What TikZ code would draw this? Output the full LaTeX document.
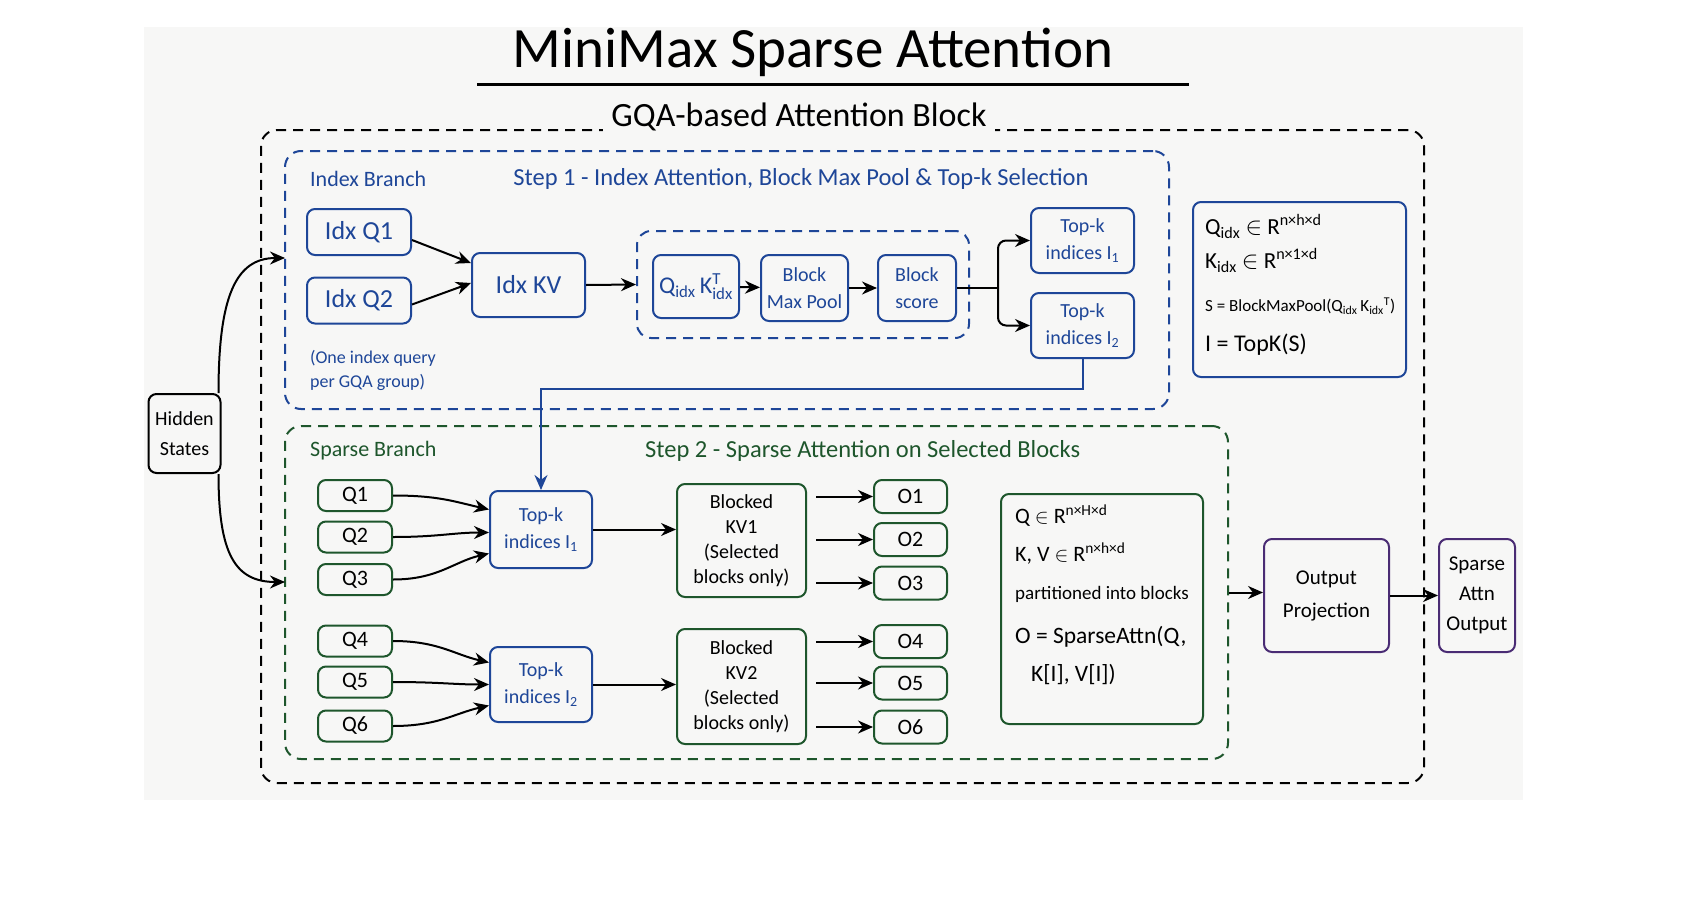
\documentclass[tikz,border=0pt]{standalone}
\usepackage{fontspec}
\setmainfont{Carlito}
\usetikzlibrary{arrows.meta}
\definecolor{idxblue}{RGB}{30,70,152}
\definecolor{spgreen}{RGB}{30,86,44}
\definecolor{projpurple}{RGB}{74,44,116}
\definecolor{paper}{RGB}{247,247,246}
\newcommand{\fsz}[2]{\fontsize{#1}{#2}\selectfont}

\begin{document}
\begin{tikzpicture}[x=1pt,y=-1pt,
  box/.style={draw, line width=2pt, rounded corners=8pt, align=center, inner sep=0pt},
  bluebox/.style={box, draw=idxblue, text=idxblue},
  greenbox/.style={box, draw=spgreen},
  purplebox/.style={box, draw=projpurple},
  group/.style={draw, line width=2pt, dash pattern=on 10pt off 7pt, rounded corners=16pt, inner sep=0pt},
  arr/.style={line width=2pt, -{Stealth[length=15pt, width=13pt]}},
  lbl/.style={inner sep=0pt, anchor=west}]
\useasboundingbox (0,0) rectangle (1700,910);
\fill[paper] (144,27) rectangle (1523,800);

\node[font=\fsz{57}{60}] (title) at (813,52) {MiniMax Sparse Attention};
\draw[line width=3pt] (477,84) -- (1189,84);

\node[group, draw=black, minimum width=1163pt, minimum height=653pt] (gqa) at (842.5,456.5) {};
\node[font=\fsz{34}{36}, fill=paper, inner xsep=8pt, inner ysep=2pt] (gqalbl) at (799,117) {GQA-based Attention Block};

\node[group, draw=idxblue, minimum width=884pt, minimum height=258pt] (idxbr) at (727,280) {};
\node[lbl, text=idxblue, font=\fsz{22}{24}] (idxlbl) at (310,179) {Index Branch};
\node[text=idxblue, font=\fsz{24.5}{26}, inner sep=0pt] (step1) at (801,179) {Step 1 - Index Attention, Block Max Pool \& Top-k Selection};
\node[text=idxblue, font=\fsz{18}{24}, align=left, inner sep=0pt] (idxnote) at (373,370) {(One index query\\per GQA group)};

\node[bluebox, minimum width=104pt, minimum height=46pt, font=\fsz{26}{28}] (idxq1) at (359,232) {Idx Q1};
\node[bluebox, minimum width=104pt, minimum height=46pt, font=\fsz{26}{28}] (idxq2) at (359,300.5) {Idx Q2};
\node[bluebox, minimum width=113pt, minimum height=64pt, font=\fsz{26}{28}] (idxkv) at (528.5,285) {Idx KV};
\node[group, draw=idxblue, rounded corners=14pt, minimum width=332pt, minimum height=107pt] (pipe) at (803,284.5) {};
\node[bluebox, minimum width=86pt, minimum height=63pt, font=\fsz{24}{28}] (qk) at (696,286.5) {$\mathrm{Q}_{\mathrm{idx}}\,\mathrm{K}^{\mathrm{T}}_{\mathrm{idx}}$};
\node[bluebox, minimum width=87pt, minimum height=66pt, font=\fsz{20}{27}] (maxpool) at (804.5,288) {Block\\Max Pool};
\node[bluebox, minimum width=78pt, minimum height=66pt, font=\fsz{20}{27}] (bscore) at (917,288) {Block\\score};
\node[bluebox, minimum width=103pt, minimum height=65pt, font=\fsz{20}{27}] (topka) at (1082.5,240.5) {Top-k\\indices I\textsubscript{1}};
\node[bluebox, minimum width=103pt, minimum height=65pt, font=\fsz{20}{27}] (topkb) at (1082.5,325.5) {Top-k\\indices I\textsubscript{2}};

\node[bluebox, minimum width=213pt, minimum height=175pt] (idxeq) at (1299.5,289.5) {};
\node[anchor=north west, align=left, inner sep=0pt, font=\fsz{23}{28}] (idxeqtxt) at (1205,214) {Q\textsubscript{idx} $\in$ R\textsuperscript{n×h×d}\\[6pt]K\textsubscript{idx} $\in$ R\textsuperscript{n×1×d}\\[15pt]{\fsz{17}{28}S = BlockMaxPool(Q\textsubscript{idx}\,K\textsubscript{idx}\textsuperscript{T})}\\[12pt]{\fsz{24}{28}I = TopK(S)}};

\node[box, minimum width=72pt, minimum height=79pt, font=\fsz{20}{30}] (hidden) at (184.5,433.5) {Hidden\\States};

\node[group, draw=spgreen, minimum width=943pt, minimum height=333pt] (spbr) at (756.5,592.5) {};
\node[lbl, text=spgreen, font=\fsz{22}{24}] (splbl) at (310,451) {Sparse Branch};
\node[lbl, text=spgreen, font=\fsz{24.5}{26}] (step2) at (645,451) {Step 2 - Sparse Attention on Selected Blocks};

\node[greenbox, minimum width=74pt, minimum height=31pt, font=\fsz{22}{24}] (q1) at (355,495.5) {Q1};
\node[greenbox, minimum width=74pt, minimum height=31pt, font=\fsz{22}{24}] (q2) at (355,537) {Q2};
\node[greenbox, minimum width=74pt, minimum height=31pt, font=\fsz{22}{24}] (q3) at (355,579.5) {Q3};
\node[greenbox, minimum width=74pt, minimum height=31pt, font=\fsz{22}{24}] (q4) at (355,641) {Q4};
\node[greenbox, minimum width=74pt, minimum height=31pt, font=\fsz{22}{24}] (q5) at (355,682) {Q5};
\node[greenbox, minimum width=74pt, minimum height=31pt, font=\fsz{22}{24}] (q6) at (355,726) {Q6};

\node[bluebox, minimum width=102pt, minimum height=77pt, font=\fsz{20}{27}] (seltopa) at (541,529.5) {Top-k\\indices I\textsubscript{1}};
\node[bluebox, minimum width=102pt, minimum height=75pt, font=\fsz{20}{27}] (seltopb) at (541,684.5) {Top-k\\indices I\textsubscript{2}};

\node[greenbox, minimum width=129pt, minimum height=113pt, font=\fsz{20}{25}] (kva) at (741.5,540.5) {Blocked\\KV1\\(Selected\\blocks only)};
\node[greenbox, minimum width=129pt, minimum height=115pt, font=\fsz{20}{25}] (kvb) at (741.5,686.5) {Blocked\\KV2\\(Selected\\blocks only)};

\node[greenbox, minimum width=73pt, minimum height=33pt, font=\fsz{22}{24}] (o1) at (910.5,496.5) {O1};
\node[greenbox, minimum width=73pt, minimum height=33pt, font=\fsz{22}{24}] (o2) at (910.5,539.5) {O2};
\node[greenbox, minimum width=73pt, minimum height=33pt, font=\fsz{22}{24}] (o3) at (910.5,583) {O3};
\node[greenbox, minimum width=73pt, minimum height=33pt, font=\fsz{22}{24}] (o4) at (910.5,641.5) {O4};
\node[greenbox, minimum width=73pt, minimum height=33pt, font=\fsz{22}{24}] (o5) at (910.5,683) {O5};
\node[greenbox, minimum width=73pt, minimum height=33pt, font=\fsz{22}{24}] (o6) at (910.5,727) {O6};

\node[greenbox, minimum width=202pt, minimum height=230pt] (speq) at (1102,609) {};
\node[anchor=north west, align=left, inner sep=0pt, font=\fsz{22}{28}] (speqtxt) at (1015,505) {Q $\in$ R\textsuperscript{n×H×d}\\[10pt]K, V $\in$ R\textsuperscript{n×h×d}\\[10pt]{\fsz{19}{26}partitioned into blocks}\\[16pt]{\fsz{23.5}{30}O = SparseAttn(Q,}\\[10pt]{\fsz{23.5}{30}\hspace{16pt}K[I], V[I])}};

\node[purplebox, minimum width=125pt, minimum height=113pt, font=\fsz{21}{33}] (outproj) at (1326.5,595.5) {Output\\Projection};
\node[purplebox, minimum width=76pt, minimum height=113pt, font=\fsz{21}{30}] (attnout) at (1477,595.5) {Sparse\\Attn\\Output};

\coordinate (idxin) at (285,258);
\coordinate (spin) at (285,582);
\coordinate (fork) at (998,288);
\draw[arr] ([xshift=-3pt]hidden.north east) .. controls +(0,-95) and +(-50,0) .. (idxin);
\draw[arr] ([xshift=-3pt]hidden.south east) .. controls +(0,80) and +(-50,0) .. (spin);

\draw[arr] ([yshift=-8pt]idxq1.east) -- ([yshift=22pt]idxkv.west);
\draw[arr] ([yshift=-4pt]idxq2.east) -- ([yshift=2pt]idxkv.west);
\draw[arr] (idxkv.east) -- (pipe.west);
\draw[arr] (qk) -- (maxpool);
\draw[arr] (maxpool) -- (bscore);
\draw[line width=2pt] (bscore.east) -- (fork);
\draw[arr, rounded corners=8pt] (fork) |- (topka.west);
\draw[arr, rounded corners=8pt] (fork) |- (topkb.west);
\draw[arr, idxblue] (topkb.south) -- ++(0,30) -| (seltopa.north);

\draw[arr] (q1.east) .. controls +(45,0) and +(-35,-8) .. ([yshift=20pt]seltopa.west);
\draw[arr] (q2.east) .. controls +(45,0) and +(-35,0) .. ([yshift=-3pt]seltopa.west);
\draw[arr] (q3.east) .. controls +(45,0) and +(-35,8) .. ([yshift=-24pt]seltopa.west);
\draw[arr] (q4.east) .. controls +(45,0) and +(-35,-8) .. ([yshift=22pt]seltopb.west);
\draw[arr] (q5.east) .. controls +(45,0) and +(-35,0) .. (seltopb.west);
\draw[arr] (q6.east) .. controls +(45,0) and +(-35,8) .. ([yshift=-21pt]seltopb.west);

\draw[arr] (seltopa.east) -- (seltopa.east -| kva.west);
\draw[arr] (seltopb.east) -- (seltopb.east -| kvb.west);
\draw[arr] ([xshift=9pt]kva.east |- o1.west) -- (o1.west);
\draw[arr] ([xshift=9pt]kva.east |- o2.west) -- (o2.west);
\draw[arr] ([xshift=9pt]kva.east |- o3.west) -- (o3.west);
\draw[arr] ([xshift=9pt]kvb.east |- o4.west) -- (o4.west);
\draw[arr] ([xshift=9pt]kvb.east |- o5.west) -- (o5.west);
\draw[arr] ([xshift=9pt]kvb.east |- o6.west) -- (o6.west);

\draw[arr] (spbr.east) -- (spbr.east -| outproj.west);
\draw[arr] (outproj.east) -- (attnout.west);
\end{tikzpicture}
\end{document}
